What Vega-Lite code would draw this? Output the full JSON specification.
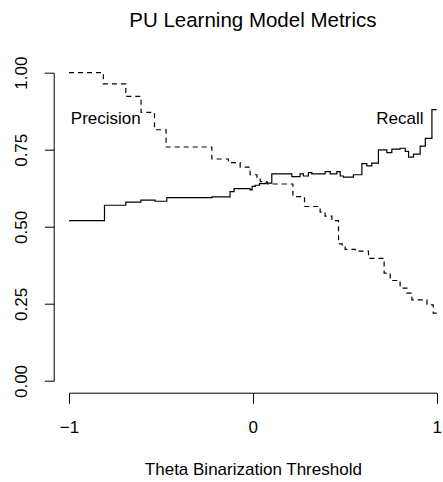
{
  "$schema": "https://vega.github.io/schema/vega-lite/v6.json",
  "width": 367.7,
  "height": 308.3,
  "autosize": "none",
  "padding": {"left": 69, "top": 72.7, "right": 6.3, "bottom": 101},
  "background": "white",
  "config": {
    "view": {"stroke": null},
    "font": "Liberation Sans",
    "axis": {
      "grid": false,
      "domainColor": "black",
      "tickColor": "black",
      "labelColor": "black",
      "titleColor": "black",
      "domainWidth": 1,
      "tickWidth": 1,
      "labelFont": "Liberation Sans",
      "titleFont": "Liberation Sans",
      "labelFontSize": 17,
      "titleFontSize": 17,
      "titleFontWeight": "normal",
      "labelOverlap": false,
      "labelFlush": false,
      "labelBound": false
    }
  },
  "title": {
    "text": "PU Learning Model Metrics",
    "font": "Liberation Sans",
    "fontSize": 20.5,
    "fontWeight": "normal",
    "color": "black",
    "anchor": "middle",
    "frame": "group",
    "baseline": "alphabetic",
    "offset": 8.7
  },
  "datasets": {
    "curves": [
      {"metric": "Precision", "theta": -1.0, "value": 1.0},
      {"metric": "Precision", "theta": -0.813, "value": 0.964},
      {"metric": "Precision", "theta": -0.691, "value": 0.923},
      {"metric": "Precision", "theta": -0.608, "value": 0.871},
      {"metric": "Precision", "theta": -0.535, "value": 0.815},
      {"metric": "Precision", "theta": -0.472, "value": 0.759},
      {"metric": "Precision", "theta": -0.223, "value": 0.72},
      {"metric": "Precision", "theta": -0.133, "value": 0.708},
      {"metric": "Precision", "theta": -0.069, "value": 0.694},
      {"metric": "Precision", "theta": -0.015, "value": 0.669},
      {"metric": "Precision", "theta": 0.022, "value": 0.658},
      {"metric": "Precision", "theta": 0.04, "value": 0.647},
      {"metric": "Precision", "theta": 0.078, "value": 0.639},
      {"metric": "Precision", "theta": 0.218, "value": 0.598},
      {"metric": "Precision", "theta": 0.281, "value": 0.566},
      {"metric": "Precision", "theta": 0.366, "value": 0.548},
      {"metric": "Precision", "theta": 0.393, "value": 0.535},
      {"metric": "Precision", "theta": 0.43, "value": 0.52},
      {"metric": "Precision", "theta": 0.466, "value": 0.445},
      {"metric": "Precision", "theta": 0.486, "value": 0.437},
      {"metric": "Precision", "theta": 0.502, "value": 0.427},
      {"metric": "Precision", "theta": 0.557, "value": 0.421},
      {"metric": "Precision", "theta": 0.629, "value": 0.398},
      {"metric": "Precision", "theta": 0.714, "value": 0.35},
      {"metric": "Precision", "theta": 0.747, "value": 0.326},
      {"metric": "Precision", "theta": 0.801, "value": 0.301},
      {"metric": "Precision", "theta": 0.838, "value": 0.285},
      {"metric": "Precision", "theta": 0.865, "value": 0.263},
      {"metric": "Precision", "theta": 0.947, "value": 0.247},
      {"metric": "Precision", "theta": 0.981, "value": 0.22},
      {"metric": "Precision", "theta": 1.0, "value": 0.22},
      {"metric": "Recall", "theta": -1.0, "value": 0.52},
      {"metric": "Recall", "theta": -0.807, "value": 0.57},
      {"metric": "Recall", "theta": -0.691, "value": 0.58},
      {"metric": "Recall", "theta": -0.609, "value": 0.587},
      {"metric": "Recall", "theta": -0.532, "value": 0.583},
      {"metric": "Recall", "theta": -0.468, "value": 0.595},
      {"metric": "Recall", "theta": -0.223, "value": 0.597},
      {"metric": "Recall", "theta": -0.124, "value": 0.614},
      {"metric": "Recall", "theta": -0.102, "value": 0.624},
      {"metric": "Recall", "theta": -0.015, "value": 0.62},
      {"metric": "Recall", "theta": -0.004, "value": 0.631},
      {"metric": "Recall", "theta": 0.013, "value": 0.635},
      {"metric": "Recall", "theta": 0.036, "value": 0.64},
      {"metric": "Recall", "theta": 0.067, "value": 0.642},
      {"metric": "Recall", "theta": 0.103, "value": 0.672},
      {"metric": "Recall", "theta": 0.212, "value": 0.663},
      {"metric": "Recall", "theta": 0.257, "value": 0.672},
      {"metric": "Recall", "theta": 0.275, "value": 0.665},
      {"metric": "Recall", "theta": 0.302, "value": 0.676},
      {"metric": "Recall", "theta": 0.321, "value": 0.672},
      {"metric": "Recall", "theta": 0.393, "value": 0.679},
      {"metric": "Recall", "theta": 0.421, "value": 0.672},
      {"metric": "Recall", "theta": 0.457, "value": 0.679},
      {"metric": "Recall", "theta": 0.475, "value": 0.665},
      {"metric": "Recall", "theta": 0.493, "value": 0.661},
      {"metric": "Recall", "theta": 0.547, "value": 0.669},
      {"metric": "Recall", "theta": 0.593, "value": 0.705},
      {"metric": "Recall", "theta": 0.62, "value": 0.698},
      {"metric": "Recall", "theta": 0.647, "value": 0.707},
      {"metric": "Recall", "theta": 0.683, "value": 0.75},
      {"metric": "Recall", "theta": 0.729, "value": 0.741},
      {"metric": "Recall", "theta": 0.756, "value": 0.752},
      {"metric": "Recall", "theta": 0.801, "value": 0.755},
      {"metric": "Recall", "theta": 0.829, "value": 0.745},
      {"metric": "Recall", "theta": 0.847, "value": 0.726},
      {"metric": "Recall", "theta": 0.874, "value": 0.736},
      {"metric": "Recall", "theta": 0.91, "value": 0.762},
      {"metric": "Recall", "theta": 0.938, "value": 0.787},
      {"metric": "Recall", "theta": 0.974, "value": 0.88},
      {"metric": "Recall", "theta": 1.0, "value": 0.88}
    ],
    "labels": [
      {"theta": -0.8, "value": 0.85, "label": "Precision"},
      {"theta": 0.8, "value": 0.85, "label": "Recall"}
    ]
  },
  "layer": [
    {
      "data": {"name": "curves"},
      "mark": {"type": "line", "interpolate": "step-after", "color": "black", "strokeWidth": 1.2},
      "encoding": {
        "x": {
          "field": "theta",
          "type": "quantitative",
          "scale": {"domain": [-1, 1], "nice": false, "zero": false},
          "axis": {
            "title": "Theta Binarization Threshold",
            "tickCount": 2,
            "format": "d",
            "offset": 11.7,
            "tickSize": 10.6,
            "labelPadding": 28.7,
            "labelBaseline": "alphabetic",
            "titleBaseline": "alphabetic",
            "titleY": 81.3
          }
        },
        "y": {
          "field": "value",
          "type": "quantitative",
          "scale": {"domain": [0, 1], "nice": false, "zero": false},
          "axis": {
            "title": null,
            "values": [0, 0.25, 0.5, 0.75, 1],
            "format": ".2f",
            "offset": 15.3,
            "tickSize": 9.4,
            "labelAngle": -90,
            "labelAlign": "center",
            "labelBaseline": "alphabetic",
            "labelPadding": 18.3
          }
        },
        "strokeDash": {
          "field": "metric",
          "type": "nominal",
          "scale": {"domain": ["Precision", "Recall"], "range": [[5, 4], [1, 0]]},
          "legend": null
        },
        "order": {"field": "theta", "type": "quantitative"}
      }
    },
    {
      "data": {"name": "labels"},
      "mark": {"type": "text", "font": "Liberation Sans", "fontSize": 17, "color": "black", "align": "center", "baseline": "middle"},
      "encoding": {
        "x": {"field": "theta", "type": "quantitative"},
        "y": {"field": "value", "type": "quantitative"},
        "text": {"field": "label", "type": "nominal"}
      }
    }
  ]
}
